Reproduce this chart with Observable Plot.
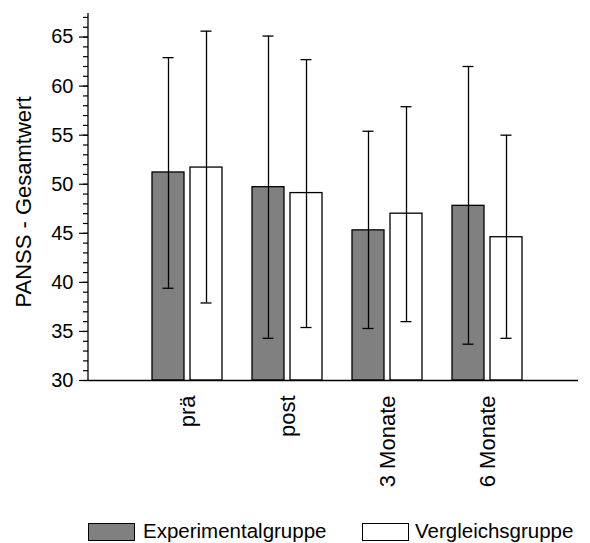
<!DOCTYPE html>
<html>
<head>
<meta charset="utf-8">
<script src="https://cdn.jsdelivr.net/npm/d3@7"></script>
<script src="https://cdn.jsdelivr.net/npm/@observablehq/plot@0.6"></script>
<style>
  body { margin: 0; background: white; font-family: "Liberation Sans", Arial, sans-serif; }
  #legend { position: relative; width: 590px; height: 38px; font-size: 20.5px; color: black; }
  .sw { position: absolute; top: 18px; width: 45px; height: 16px; border: 1px solid black; box-sizing: content-box; }
  .lab { position: absolute; top: 15px; line-height: 22px; white-space: nowrap; }
</style>
</head>
<body>
<div id="chart"></div>
<div id="legend"></div>
<script>
// PANSS total score by time point, mean ± SD for both groups
const timepoints = ["prä", "post", "3 Monate", "6 Monate"];
const seriesNames = ["Experimentalgruppe", "Vergleichsgruppe"];
const seriesFill = ["#808080", "#ffffff"];
const yLabel = "PANSS - Gesamtwert";

const expMean = [51.2, 49.7, 45.3, 47.8];
const expLow  = [39.4, 34.3, 35.3, 33.7];
const expHigh = [62.9, 65.1, 55.4, 62.0];

const cmpMean = [51.7, 49.1, 47.0, 44.6];
const cmpLow  = [37.9, 35.4, 36.0, 34.3];
const cmpHigh = [65.6, 62.7, 57.9, 55.0];

const yDomain = [30, 67.4];
const majorTicks = [30, 35, 40, 45, 50, 55, 60, 65];
const minorTicks = d3.range(30, 68, 1);

const rows = (mean, low, high) =>
  timepoints.map((t, i) => ({time: t, mean: mean[i], low: low[i], high: high[i]}));
const expRows = rows(expMean, expLow, expHigh);
const cmpRows = rows(cmpMean, cmpLow, cmpHigh);

// one series of bars with error bars, shifted inside each time-point band
function series(data, fill, left) {
  const barIn = left ? [15, 53] : [53, 15];
  const capIn = left ? [25.5, 63.5] : [63.5, 25.5];
  return [
    Plot.barY(data, {x: "time", y1: () => yDomain[0], y2: "mean", fill,
      stroke: "black", strokeWidth: 1.3, insetLeft: barIn[0], insetRight: barIn[1]}),
    Plot.ruleX(data, {x: "time", y1: "low", y2: "high", dx: left ? -19 : 19,
      stroke: "black", strokeWidth: 1.3}),
    Plot.tickY(data, {x: "time", y: "high", stroke: "black", strokeWidth: 1.3,
      insetLeft: capIn[0], insetRight: capIn[1]}),
    Plot.tickY(data, {x: "time", y: "low", stroke: "black", strokeWidth: 1.3,
      insetLeft: capIn[0], insetRight: capIn[1]})
  ];
}

// vertical axis line along the left edge of the frame
function yAxisLine(index, scales, values, dimensions) {
  return d3.create("svg:line")
    .attr("x1", dimensions.marginLeft).attr("x2", dimensions.marginLeft)
    .attr("y1", scales.y(yDomain[0])).attr("y2", scales.y(yDomain[1]))
    .attr("stroke", "black").attr("stroke-width", 1.3)
    .node();
}

const chart = Plot.plot({
  width: 590,
  height: 505,
  marginLeft: 88,
  marginRight: 12,
  marginTop: 13,
  marginBottom: 125,
  style: {fontFamily: "'Liberation Sans', Arial, sans-serif", fontSize: "20px", background: "white", color: "black"},
  x: {type: "band", domain: timepoints, range: [137, 537], padding: 0},
  y: {domain: yDomain},
  marks: [
    ...series(expRows, seriesFill[0], true),
    ...series(cmpRows, seriesFill[1], false),
    Plot.ruleY([yDomain[0]], {stroke: "black", strokeWidth: 1.3}),
    yAxisLine,
    Plot.axisY({ticks: minorTicks, tickSize: 5, tickFormat: () => "", label: null, strokeWidth: 1.2}),
    Plot.axisY({ticks: majorTicks, tickSize: 9, tickPadding: 6, fontSize: 20, strokeWidth: 1.2, label: null}),
    Plot.text([yLabel], {text: d => d, frameAnchor: "left", textAnchor: "middle", rotate: -90,
      dx: -65, dy: 5, fontSize: 22, fill: "black"}),
    Plot.axisX({tickSize: 0, tickRotate: -90, tickPadding: 15, fontSize: 22, label: null})
  ]
});
document.getElementById("chart").append(chart);

// legend below the chart
const legend = document.getElementById("legend");
const legendPos = [[88, 143], [362, 415]];
seriesNames.forEach((name, i) => {
  const sw = document.createElement("div");
  sw.className = "sw";
  sw.style.left = legendPos[i][0] + "px";
  sw.style.background = seriesFill[i];
  legend.append(sw);
  const lab = document.createElement("div");
  lab.className = "lab";
  lab.style.left = legendPos[i][1] + "px";
  lab.textContent = name;
  legend.append(lab);
});
</script>
</body>
</html>
